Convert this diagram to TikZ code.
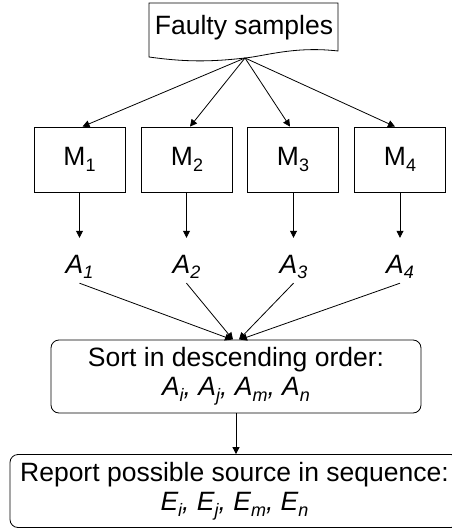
\documentclass[tikz,border=0pt]{standalone}
\usepackage{fontspec}
\setmainfont{Liberation Sans}
\usetikzlibrary{arrows.meta}
\newcommand\lsub[1]{\raisebox{-0.22em}{\fontsize{18}{18}\selectfont #1}}
\begin{document}
\begin{tikzpicture}[x=1pt,y=-1pt,
  every node/.style={font=\fontsize{26.5}{30}\selectfont},
  arr/.style={draw,line width=0.8pt,-{Triangle[length=7pt,width=7pt]}},
  ln/.style={draw,line width=0.8pt},
  mbox/.style={draw,line width=0.8pt,minimum width=91pt,minimum height=65pt,inner sep=0pt},
  alab/.style={inner sep=0pt,text height=35pt,text depth=10pt,font=\fontsize{26.5}{30}\selectfont\itshape},
  rbox/.style={draw,line width=0.8pt,rounded corners=8pt,align=center,minimum height=73pt,inner sep=0pt}]
\useasboundingbox (0,0) rectangle (451,529);
% document shape
\draw[line width=0.8pt] (149,3) -- (338,3) -- (338,51)
  .. controls (295,46) and (265,56) .. (245,58)
  .. controls (210,62) and (185,62) .. (149,57) -- cycle;
\node (fs) at (244,28) {Faulty samples};
\coordinate (src) at (245,58);
\node[mbox] (m1) at (79.5,159.5) {M\lsub{1}};
\node[mbox] (m2) at (187,159.5) {M\lsub{2}};
\node[mbox] (m3) at (293,159.5) {M\lsub{3}};
\node[mbox] (m4) at (400,159.5) {M\lsub{4}};
\draw[arr] (src) -- ([xshift=3pt]m1.north);
\draw[arr] (src) -- ([xshift=3pt]m2.north);
\draw[arr] (src) -- ([xshift=-3pt]m3.north);
\draw[arr] (src) -- ([xshift=-5pt]m4.north);
\node[alab,anchor=base] (a1) at (79.5,273) {A\lsub{1}};
\node[alab,anchor=base] (a2) at (186.5,273) {A\lsub{2}};
\node[alab,anchor=base] (a3) at (293.5,273) {A\lsub{3}};
\node[alab,anchor=base] (a4) at (400,273) {A\lsub{4}};
\draw[arr] (m1.south -| a1) -- (a1.north);
\draw[arr] (m2.south -| a2) -- (a2.north);
\draw[arr] (m3.south -| a3) -- (a3.north);
\draw[arr] (m4.south -| a4) -- (a4.north);
\node[rbox,minimum width=370pt] (sort) at (236,376.5)
  {Sort in descending order:\\[-1pt] \itshape A\lsub{i}, A\lsub{j}, A\lsub{m}, A\lsub{n}};
\draw[arr] (a1.south) -- ([xshift=-4pt]sort.north);
\draw[arr] (a2.south) -- ([xshift=-3pt]sort.north);
\draw[arr] (a3.south) -- ([xshift=3pt]sort.north);
\draw[arr] (a4.south) -- ([xshift=4pt]sort.north);
\node[rbox,minimum width=449pt] (rep) at (234.5,491)
  {Report possible source in sequence:\\[-1pt] \itshape E\lsub{i}, E\lsub{j}, E\lsub{m}, E\lsub{n}};
\draw[arr] (sort.south) -- (sort.south |- rep.north);
\end{tikzpicture}
\end{document}
